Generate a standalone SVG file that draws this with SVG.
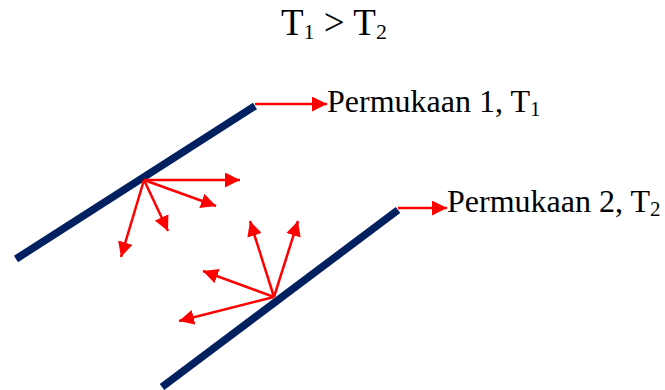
<svg xmlns="http://www.w3.org/2000/svg" width="665" height="390" viewBox="0 0 665 390">
<defs>
<marker id="ah" markerUnits="userSpaceOnUse" markerWidth="15" markerHeight="15" refX="15" refY="7.5" orient="auto">
<path d="M0,0 L15,7.5 L0,15 z" fill="#FF0000"/>
</marker>
<style>
.txt{font-family:"Liberation Serif","Times New Roman",serif;fill:#000}
.surf{stroke:#002060;stroke-width:7.5;fill:none}
.ar{stroke:#FF0000;stroke-width:2.5;fill:none;marker-end:url(#ah)}
</style>
</defs>
<g id="title">
<text class="txt" x="281" y="35" font-size="37">T<tspan font-size="22" dy="4">1</tspan><tspan dy="-4"> &gt; T</tspan><tspan font-size="22" dy="4">2</tspan></text>
</g>
<g id="surface1">
<line class="surf" x1="16" y1="259" x2="255" y2="106"/>
</g>
<g id="surface2">
<line class="surf" x1="162" y1="387" x2="398" y2="210"/>
</g>
<g id="label1">
<text class="txt" x="327" y="112" font-size="32">Permukaan 1, T<tspan font-size="21" dy="4">1</tspan></text>
</g>
<g id="label2">
<text class="txt" x="447" y="212" font-size="32">Permukaan 2, T<tspan font-size="21" dy="4">2</tspan></text>
</g>
<g id="connectors">
<line class="ar" x1="255" y1="104" x2="327" y2="104"/>
<line class="ar" x1="398" y1="208" x2="447" y2="208"/>
<line class="ar" x1="144" y1="180" x2="240" y2="180"/>
<line class="ar" x1="144" y1="180" x2="216" y2="206"/>
<line class="ar" x1="144" y1="180" x2="168" y2="231"/>
<line class="ar" x1="144" y1="180" x2="121" y2="257"/>
<line class="ar" x1="274" y1="297" x2="250" y2="221"/>
<line class="ar" x1="274" y1="297" x2="298" y2="221"/>
<line class="ar" x1="274" y1="297" x2="203" y2="271"/>
<line class="ar" x1="274" y1="297" x2="179" y2="321"/>
</g>
</svg>
